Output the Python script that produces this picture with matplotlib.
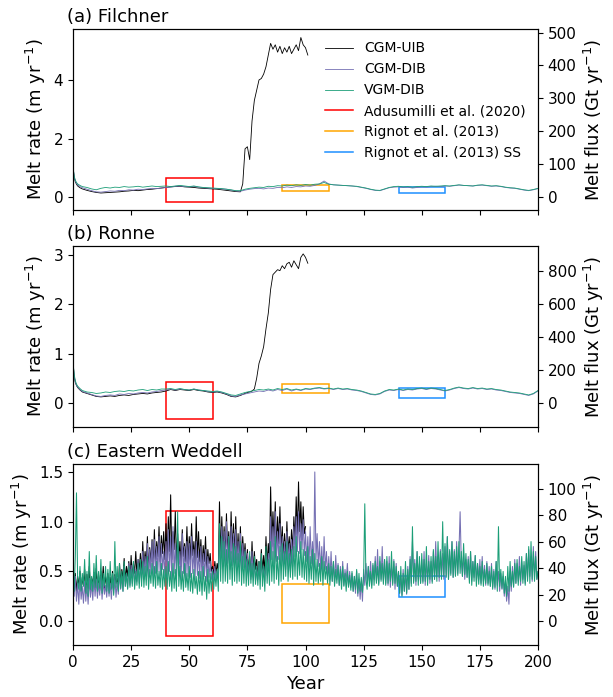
import numpy as np
import matplotlib
matplotlib.use("Agg")
import matplotlib.pyplot as plt
from matplotlib.patches import Rectangle
from matplotlib.lines import Line2D

# ---------------- data ----------------
series_names = ["CGM-UIB", "CGM-DIB", "VGM-DIB"]
obs_names = ["Adusumilli et al. (2020)", "Rignot et al. (2013)", "Rignot et al. (2013) SS"]
obs_years = [(40, 60), (90, 110), (140, 160)]
panel_titles = ["(a) Filchner", "(b) Ronne", "(c) Eastern Weddell"]
flux_factor = [89.0, 300.0, 75.0]

# time axes for panels (a),(b)
t_dib_ab = np.concatenate([[0, 0.5, 1, 1.5, 2, 3], np.arange(4, 201, 2)])
t_uib_ab = np.concatenate([[0, 0.5, 1, 1.5, 2, 3], np.arange(4, 71, 2), np.arange(72, 102, 1)])
# time axes for panel (c)
t_dib_c = np.arange(0, 200.01, 0.5)
t_uib_c = np.arange(0, 100.01, 0.5)

# ---- (a) Filchner ----
fil_uib = [1.05, 0.68, 0.52, 0.44, 0.38, 0.32,
           0.28, 0.23, 0.19, 0.16, 0.14, 0.15, 0.16, 0.17, 0.18, 0.20,
           0.21, 0.23, 0.22, 0.24, 0.26, 0.27, 0.29, 0.31, 0.33, 0.35,
           0.36, 0.37, 0.35, 0.34, 0.33, 0.31, 0.30, 0.29, 0.28, 0.27,
           0.25, 0.23, 0.21, 0.19,
           0.18, 0.45, 1.65, 1.72, 1.28, 2.60, 3.30, 3.65, 4.00, 4.05,
           4.20, 4.45, 4.85, 5.25, 5.05, 5.20, 4.95, 5.15, 4.90, 5.10,
           4.95, 5.15, 4.90, 5.05, 5.20, 5.00, 5.45, 5.20, 5.10, 4.85]
fil_dib = [1.05, 0.70, 0.55, 0.47, 0.42, 0.36,
           0.32, 0.27, 0.22, 0.18, 0.17, 0.19, 0.21, 0.20, 0.23, 0.22,
           0.25, 0.24, 0.27, 0.26, 0.28, 0.30, 0.29, 0.31, 0.33, 0.34,
           0.37, 0.38, 0.36, 0.35, 0.37, 0.34, 0.32, 0.31, 0.30, 0.29,
           0.28, 0.27, 0.24, 0.21, 0.20, 0.24, 0.27, 0.29, 0.30, 0.28,
           0.31, 0.30, 0.33, 0.32, 0.35, 0.33, 0.36, 0.35, 0.38, 0.37,
           0.40, 0.45, 0.55, 0.45, 0.42, 0.41, 0.40, 0.39, 0.38, 0.36,
           0.33, 0.30, 0.26, 0.23, 0.22, 0.27, 0.32, 0.34, 0.35, 0.33,
           0.34, 0.31, 0.33, 0.35, 0.34, 0.36, 0.37, 0.36, 0.38, 0.37,
           0.39, 0.41, 0.40, 0.39, 0.38, 0.40, 0.41, 0.39, 0.37, 0.38,
           0.36, 0.33, 0.31, 0.30, 0.27, 0.24, 0.22, 0.25, 0.29]
fil_vgm = [1.05, 0.72, 0.58, 0.50, 0.45, 0.40,
           0.36, 0.33, 0.28, 0.25, 0.30, 0.33, 0.31, 0.34, 0.33, 0.36,
           0.34, 0.35, 0.37, 0.34, 0.36, 0.38, 0.36, 0.37, 0.38, 0.36,
           0.38, 0.40, 0.38, 0.36, 0.38, 0.35, 0.33, 0.32, 0.31, 0.30,
           0.29, 0.27, 0.25, 0.22, 0.22, 0.27, 0.30, 0.32, 0.34, 0.33,
           0.37, 0.36, 0.39, 0.38, 0.41, 0.39, 0.42, 0.40, 0.43, 0.41,
           0.44, 0.45, 0.50, 0.44, 0.42, 0.41, 0.40, 0.39, 0.38, 0.37,
           0.34, 0.31, 0.27, 0.24, 0.23, 0.28, 0.33, 0.36, 0.37, 0.35,
           0.36, 0.34, 0.36, 0.37, 0.36, 0.38, 0.37, 0.38, 0.39, 0.38,
           0.40, 0.42, 0.40, 0.39, 0.38, 0.41, 0.42, 0.40, 0.38, 0.39,
           0.37, 0.34, 0.32, 0.31, 0.28, 0.25, 0.23, 0.26, 0.30]

# ---- (b) Ronne ----
ron_uib = [0.84, 0.54, 0.41, 0.35, 0.31, 0.26,
           0.22, 0.19, 0.16, 0.13, 0.12, 0.13, 0.14, 0.13, 0.15, 0.16,
           0.15, 0.17, 0.18, 0.19, 0.18, 0.20, 0.21, 0.22, 0.24, 0.27,
           0.25, 0.27, 0.26, 0.25, 0.27, 0.25, 0.24, 0.22, 0.21, 0.22,
           0.20, 0.17, 0.13, 0.12,
           0.15, 0.17, 0.19, 0.21, 0.22, 0.24, 0.28, 0.50, 0.80, 0.95,
           1.14, 1.50, 1.82, 2.30, 2.60, 2.65, 2.70, 2.68, 2.78, 2.72,
           2.82, 2.85, 2.75, 2.88, 2.80, 2.72, 2.95, 3.02, 2.95, 2.83]
ron_dib = [0.84, 0.55, 0.42, 0.36, 0.32, 0.27,
           0.23, 0.20, 0.17, 0.14, 0.13, 0.15, 0.16, 0.15, 0.18, 0.17,
           0.19, 0.18, 0.20, 0.21, 0.20, 0.22, 0.23, 0.25, 0.26, 0.28,
           0.26, 0.28, 0.27, 0.26, 0.28, 0.26, 0.25, 0.23, 0.22, 0.23,
           0.21, 0.18, 0.14, 0.13, 0.16, 0.18, 0.20, 0.22, 0.24, 0.23,
           0.26, 0.24, 0.27, 0.25, 0.28, 0.24, 0.27, 0.25, 0.28, 0.27,
           0.29, 0.30, 0.28, 0.29, 0.27, 0.29, 0.27, 0.28, 0.26, 0.25,
           0.23, 0.20, 0.17, 0.16, 0.18, 0.23, 0.26, 0.25, 0.27, 0.25,
           0.27, 0.26, 0.28, 0.29, 0.27, 0.29, 0.28, 0.26, 0.24, 0.26,
           0.29, 0.31, 0.29, 0.28, 0.30, 0.28, 0.29, 0.27, 0.28, 0.26,
           0.25, 0.23, 0.21, 0.20, 0.19, 0.17, 0.15, 0.18, 0.24]
ron_vgm = [0.84, 0.58, 0.45, 0.38, 0.34, 0.29,
           0.25, 0.22, 0.21, 0.19, 0.20, 0.22, 0.21, 0.23, 0.24, 0.23,
           0.25, 0.24, 0.26, 0.27, 0.25, 0.27, 0.26, 0.28, 0.28, 0.29,
           0.27, 0.29, 0.27, 0.26, 0.28, 0.26, 0.25, 0.24, 0.23, 0.24,
           0.22, 0.19, 0.16, 0.15, 0.18, 0.21, 0.23, 0.25, 0.27, 0.26,
           0.28, 0.26, 0.29, 0.27, 0.29, 0.26, 0.28, 0.26, 0.29, 0.28,
           0.30, 0.31, 0.29, 0.30, 0.28, 0.30, 0.28, 0.29, 0.27, 0.26,
           0.24, 0.21, 0.18, 0.17, 0.19, 0.24, 0.27, 0.26, 0.28, 0.26,
           0.28, 0.27, 0.29, 0.30, 0.28, 0.30, 0.29, 0.27, 0.25, 0.27,
           0.30, 0.32, 0.30, 0.29, 0.31, 0.29, 0.30, 0.28, 0.29, 0.27,
           0.26, 0.24, 0.22, 0.21, 0.20, 0.18, 0.16, 0.19, 0.25]

# ---- (c) Eastern Weddell (half-year values) ----
ew_uib = [0.42, 0.33, 0.48, 0.30, 0.45, 0.35, 0.50, 0.31, 0.44, 0.36,
          0.52, 0.29, 0.47, 0.33, 0.55, 0.30, 0.43, 0.38, 0.49, 0.32,
          0.53, 0.34, 0.46, 0.31, 0.50, 0.37, 0.55, 0.33, 0.45, 0.36,
          0.48, 0.31, 0.44, 0.35, 0.50, 0.32, 0.47, 0.38, 0.43, 0.34,
          0.58, 0.38, 0.52, 0.42, 0.63, 0.40, 0.55, 0.45, 0.60, 0.41,
          0.66, 0.44, 0.58, 0.48, 0.70, 0.46, 0.62, 0.52, 0.68, 0.47,
          0.80, 0.52, 0.70, 0.57, 0.85, 0.50, 0.74, 0.60, 0.82, 0.55,
          0.92, 0.58, 0.80, 0.65, 0.95, 0.60, 0.86, 0.68, 0.90, 0.62,
          0.98, 0.60, 1.05, 0.70, 1.27, 0.62, 0.90, 0.72, 1.10, 0.58,
          0.88, 0.62, 0.80, 0.55, 0.92, 0.65, 0.78, 0.60, 0.95, 0.58,
          0.85, 0.62, 0.98, 0.66, 0.80, 0.58, 1.05, 0.64, 0.90, 0.60,
          0.82, 0.55, 0.76, 0.60, 0.85, 0.52, 0.72, 0.58, 0.68, 0.50,
          0.55, 0.46, 0.60, 0.48, 0.58, 0.50, 1.20, 0.65, 1.05, 0.70,
          0.95, 0.65, 1.08, 0.70, 0.90, 0.62, 1.10, 0.68, 0.98, 0.66,
          1.05, 0.62, 0.88, 0.60, 0.95, 0.58, 0.85, 0.62, 0.78, 0.55,
          0.72, 0.50, 0.65, 0.45, 0.80, 0.48, 0.70, 0.52, 0.62, 0.46,
          0.60, 0.45, 0.72, 0.50, 0.66, 0.48, 0.85, 0.55, 0.78, 0.60,
          1.35, 0.75, 1.10, 0.80, 1.20, 0.72, 1.05, 0.78, 1.15, 0.70,
          0.95, 0.65, 0.88, 0.62, 1.00, 0.68, 0.85, 0.64, 0.92, 0.70,
          1.05, 0.80, 1.25, 0.85, 1.40, 0.90, 1.20, 0.82, 1.15, 0.88,
          0.95]
ew_dib = [0.40, 0.25, 0.45, 0.20, 0.38, 0.17, 0.42, 0.22, 0.35, 0.18,
          0.40, 0.20, 0.36, 0.17, 0.43, 0.24, 0.38, 0.21, 0.44, 0.25,
          0.42, 0.23, 0.38, 0.26, 0.45, 0.22, 0.40, 0.27, 0.36, 0.24,
          0.43, 0.25, 0.38, 0.22, 0.41, 0.28, 0.45, 0.24, 0.39, 0.27,
          0.50, 0.32, 0.45, 0.30, 0.55, 0.35, 0.48, 0.33, 0.58, 0.36,
          0.56, 0.38, 0.60, 0.36, 0.52, 0.40, 0.62, 0.38, 0.55, 0.42,
          0.70, 0.42, 0.65, 0.45, 0.78, 0.44, 0.72, 0.48, 0.80, 0.46,
          0.82, 0.48, 0.75, 0.50, 0.85, 0.46, 0.78, 0.52, 0.70, 0.45,
          0.80, 0.45, 0.92, 0.50, 0.85, 0.42, 0.95, 0.48, 0.78, 0.44,
          0.82, 0.46, 0.70, 0.42, 0.88, 0.48, 0.75, 0.40, 0.80, 0.45,
          0.78, 0.44, 0.85, 0.48, 0.72, 0.42, 0.80, 0.46, 0.70, 0.43,
          0.75, 0.42, 0.68, 0.45, 0.72, 0.40, 0.65, 0.44, 0.60, 0.42,
          0.52, 0.40, 0.55, 0.42, 0.50, 0.44, 0.85, 0.52, 0.95, 0.55,
          0.90, 0.55, 1.00, 0.58, 0.85, 0.52, 0.95, 0.56, 0.88, 0.54,
          0.92, 0.52, 0.80, 0.55, 0.88, 0.50, 0.78, 0.54, 0.72, 0.50,
          0.68, 0.45, 0.62, 0.42, 0.70, 0.44, 0.60, 0.40, 0.55, 0.42,
          0.58, 0.42, 0.62, 0.45, 0.55, 0.40, 0.65, 0.46, 0.68, 0.50,
          1.05, 0.62, 0.95, 0.58, 1.10, 0.60, 0.90, 0.62, 0.98, 0.58,
          0.85, 0.55, 0.80, 0.52, 0.90, 0.56, 0.78, 0.50, 0.82, 0.55,
          0.95, 0.65, 1.05, 0.70, 1.10, 0.68, 0.98, 0.72, 1.02, 0.66,
          0.90, 0.60, 0.85, 0.55, 0.95, 0.58, 0.80, 0.52, 1.50, 0.62,
          0.88, 0.55, 0.80, 0.50, 0.75, 0.48, 0.85, 0.52, 0.70, 0.45,
          0.65, 0.42, 0.70, 0.40, 0.60, 0.38, 0.66, 0.42, 0.58, 0.36,
          0.55, 0.38, 0.60, 0.36, 0.52, 0.40, 0.58, 0.35, 0.50, 0.34,
          0.48, 0.30, 0.45, 0.28, 0.50, 0.25, 0.42, 0.22, 0.40, 0.20,
          0.52, 0.36, 0.58, 0.38, 0.55, 0.40, 0.60, 0.36, 0.56, 0.42,
          0.65, 0.40, 0.72, 0.38, 0.60, 0.42, 0.75, 0.40, 0.62, 0.38,
          0.60, 0.36, 0.65, 0.34, 0.55, 0.38, 0.62, 0.32, 0.58, 0.35,
          0.50, 0.28, 0.45, 0.26, 0.52, 0.30, 0.48, 0.27, 0.55, 0.32,
          0.65, 0.38, 0.80, 0.40, 0.62, 0.36, 0.70, 0.42, 0.58, 0.38,
          0.62, 0.40, 0.70, 0.36, 0.58, 0.42, 0.66, 0.38, 0.60, 0.40,
          0.70, 0.42, 0.80, 0.45, 0.65, 0.40, 0.72, 0.44, 0.68, 0.42,
          0.75, 0.45, 0.85, 0.42, 0.70, 0.48, 0.80, 0.44, 0.72, 0.46,
          0.80, 0.48, 0.70, 1.10, 0.60, 0.45, 0.68, 0.42, 0.62, 0.44,
          0.65, 0.42, 0.70, 0.40, 0.60, 0.44, 0.66, 0.40, 0.58, 0.42,
          0.62, 0.38, 0.65, 0.40, 0.56, 0.36, 0.60, 0.38, 0.55, 0.35,
          0.58, 0.34, 0.52, 0.32, 0.60, 0.36, 0.50, 0.30, 0.48, 0.32,
          0.45, 0.25, 0.40, 0.20, 0.35, 0.17, 0.50, 0.30, 0.55, 0.35,
          0.62, 0.38, 0.58, 0.40, 0.65, 0.36, 0.60, 0.42, 0.56, 0.38,
          0.68, 0.42, 0.72, 0.45, 0.65, 0.40, 0.75, 0.44, 0.70, 0.42,
          0.50]
ew_vgm = [0.45, 0.30, 0.65, 1.29, 0.40, 0.32, 0.55, 0.30, 0.48, 0.35,
          0.62, 0.28, 0.50, 0.25, 0.70, 0.32, 0.45, 0.30, 0.58, 0.34,
          0.66, 0.30, 0.50, 0.33, 0.62, 0.28, 0.48, 0.35, 0.55, 0.30,
          0.52, 0.28, 0.60, 0.32, 0.48, 0.26, 0.80, 0.34, 0.55, 0.30,
          0.58, 0.33, 0.50, 0.30, 0.60, 0.35, 0.48, 0.32, 0.55, 0.34,
          0.52, 0.35, 0.60, 0.32, 0.50, 0.36, 0.58, 0.33, 0.62, 0.35,
          0.60, 0.34, 0.55, 0.36, 0.65, 0.32, 0.52, 0.38, 0.58, 0.35,
          0.55, 0.33, 0.60, 0.36, 0.50, 0.34, 0.58, 0.32, 0.52, 0.35,
          0.55, 0.32, 0.60, 0.35, 0.50, 0.30, 0.58, 0.33, 0.52, 0.30,
          1.10, 0.35, 0.55, 0.32, 0.50, 0.30, 0.58, 0.34, 0.48, 0.31,
          0.55, 0.30, 0.48, 0.28, 0.52, 0.33, 0.45, 0.27, 0.50, 0.30,
          0.50, 0.26, 0.55, 0.30, 0.45, 0.22, 0.52, 0.28, 0.48, 0.30,
          0.50, 0.32, 0.48, 0.35, 0.52, 0.30, 0.98, 0.40, 0.85, 0.38,
          0.80, 0.40, 0.72, 0.38, 0.85, 0.42, 0.70, 0.36, 0.78, 0.40,
          0.75, 0.38, 0.68, 0.40, 0.80, 0.36, 0.65, 0.38, 0.70, 0.35,
          0.62, 0.36, 0.70, 0.38, 0.58, 0.35, 0.65, 0.37, 0.55, 0.36,
          0.60, 0.32, 0.68, 0.35, 0.55, 0.30, 0.75, 0.38, 0.62, 0.36,
          0.80, 0.40, 0.70, 0.38, 0.85, 0.42, 0.65, 0.36, 0.75, 0.40,
          0.78, 0.42, 0.70, 0.45, 0.80, 0.40, 0.68, 0.44, 0.72, 0.42,
          0.75, 0.45, 0.85, 0.42, 0.70, 0.46, 0.80, 0.44, 0.72, 0.42,
          0.70, 0.40, 0.75, 0.38, 0.65, 0.42, 0.72, 0.36, 0.68, 0.40,
          0.62, 0.38, 0.58, 0.40, 0.65, 0.36, 0.60, 0.42, 0.55, 0.38,
          0.58, 0.36, 0.55, 0.40, 0.60, 0.35, 0.52, 0.38, 0.56, 0.36,
          0.52, 0.32, 0.55, 0.35, 0.48, 0.30, 0.50, 0.34, 0.46, 0.31,
          0.50, 0.30, 0.45, 0.32, 0.52, 0.28, 0.48, 0.30, 0.44, 0.29,
          0.45, 1.18, 0.42, 0.32, 0.55, 0.35, 0.50, 0.33, 0.58, 0.36,
          0.60, 0.38, 0.55, 0.36, 0.65, 0.40, 0.58, 0.37, 0.62, 0.36,
          0.65, 0.38, 0.58, 0.40, 0.70, 0.36, 0.60, 0.38, 0.55, 0.35,
          0.50, 0.28, 0.55, 0.25, 0.48, 0.30, 0.60, 0.28, 0.52, 0.32,
          0.62, 0.35, 0.95, 0.38, 0.58, 0.40, 0.70, 0.36, 0.65, 0.38,
          0.68, 0.38, 0.62, 0.40, 0.75, 0.36, 0.60, 0.42, 0.65, 0.38,
          0.72, 0.42, 0.65, 0.40, 0.80, 0.44, 0.70, 0.42, 1.00, 0.45,
          0.78, 0.44, 0.85, 0.42, 0.72, 0.46, 0.80, 0.44, 0.70, 0.45,
          0.75, 0.46, 0.80, 0.48, 0.70, 0.45, 0.78, 0.47, 0.68, 0.44,
          0.62, 0.38, 0.70, 0.36, 0.60, 0.40, 0.66, 0.35, 0.58, 0.37,
          0.55, 0.36, 0.60, 0.35, 0.52, 0.38, 0.58, 0.36, 0.50, 0.35,
          0.55, 0.32, 0.50, 0.34, 0.60, 0.30, 0.95, 0.35, 0.52, 0.33,
          0.50, 0.28, 0.45, 0.25, 0.55, 0.30, 0.60, 0.35, 0.50, 0.34,
          0.58, 0.38, 0.62, 0.36, 0.55, 0.40, 0.65, 0.38, 0.60, 0.36,
          0.68, 0.40, 0.75, 0.38, 0.80, 0.42, 0.70, 0.40, 0.65, 0.42,
          0.50]

# observational ranges (lo, hi) per panel: Adusumilli, Rignot, Rignot SS
obs_lo = [[-0.17, 0.22, 0.13], [-0.33, 0.20, 0.10], [-0.15, -0.02, 0.24]]
obs_hi = [[0.65, 0.43, 0.33], [0.42, 0.38, 0.30], [1.11, 0.37, 0.45]]

ylims = [(-0.44, 5.74), (-0.49, 3.18), (-0.24, 1.58)]
yticks_l = [[0, 2, 4], [0, 1, 2, 3], [0.0, 0.5, 1.0, 1.5]]
yticks_r = [[0, 100, 200, 300, 400, 500], [0, 200, 400, 600, 800], [0, 20, 40, 60, 80, 100]]

# ---------------- styling ----------------
line_colors = ["black", "#7570b3", "#1b9e77"]
obs_colors = ["red", "orange", "#1e90ff"]

plt.rcParams["font.family"] = ["DejaVu Sans"]

fig = plt.figure(figsize=(6.13, 6.97), dpi=100)
left, width, height = 73 / 613, 465 / 613, 181 / 697
bottoms = [1 - 210 / 697, 1 - 427 / 697, 1 - 645 / 697]

panel_data = [
    [(t_uib_ab, fil_uib), (t_dib_ab, fil_dib), (t_dib_ab, fil_vgm)],
    [(t_uib_ab, ron_uib), (t_dib_ab, ron_dib), (t_dib_ab, ron_vgm)],
    [(t_uib_c, ew_uib), (t_dib_c, ew_dib), (t_dib_c, ew_vgm)],
]

for i in range(3):
    ax = fig.add_axes([left, bottoms[i], width, height])
    lw = 0.6 if i < 2 else 0.75
    handles = []
    for j, (t, y) in enumerate(panel_data[i]):
        h, = ax.plot(t, y, color=line_colors[j], lw=lw, label=series_names[j])
        handles.append(Line2D([], [], color=line_colors[j], lw=0.6))
    for k in range(3):
        x0, x1 = obs_years[k]
        r = Rectangle((x0, obs_lo[i][k]), x1 - x0, obs_hi[i][k] - obs_lo[i][k],
                      fill=False, edgecolor=obs_colors[k], lw=1.1)
        ax.add_patch(r)
        handles.append(Line2D([], [], color=obs_colors[k], lw=1.1))
    ax.set_xlim(0, 200)
    ax.set_ylim(*ylims[i])
    ax.set_yticks(yticks_l[i])
    ax.set_xticks(np.arange(0, 201, 25))
    ax.tick_params(labelsize=11)
    ax.set_ylabel(r"Melt rate (m yr$^{-1}$)", fontsize=13)
    ax.set_title(panel_titles[i], loc="left", x=-0.013, fontsize=13, pad=5)
    if i < 2:
        ax.tick_params(labelbottom=False)
    else:
        ax.set_xlabel("Year", fontsize=13)
    if i == 0:
        ax.legend(handles, series_names + obs_names, loc="upper right",
                  frameon=False, fontsize=10)
    ax2 = ax.twinx()
    ax2.set_ylim(ylims[i][0] * flux_factor[i], ylims[i][1] * flux_factor[i])
    ax2.set_yticks(yticks_r[i])
    ax2.tick_params(labelsize=11)
    ax2.set_ylabel(r"Melt flux (Gt yr$^{-1}$)", fontsize=13)

fig.savefig("out.png", dpi=100)
